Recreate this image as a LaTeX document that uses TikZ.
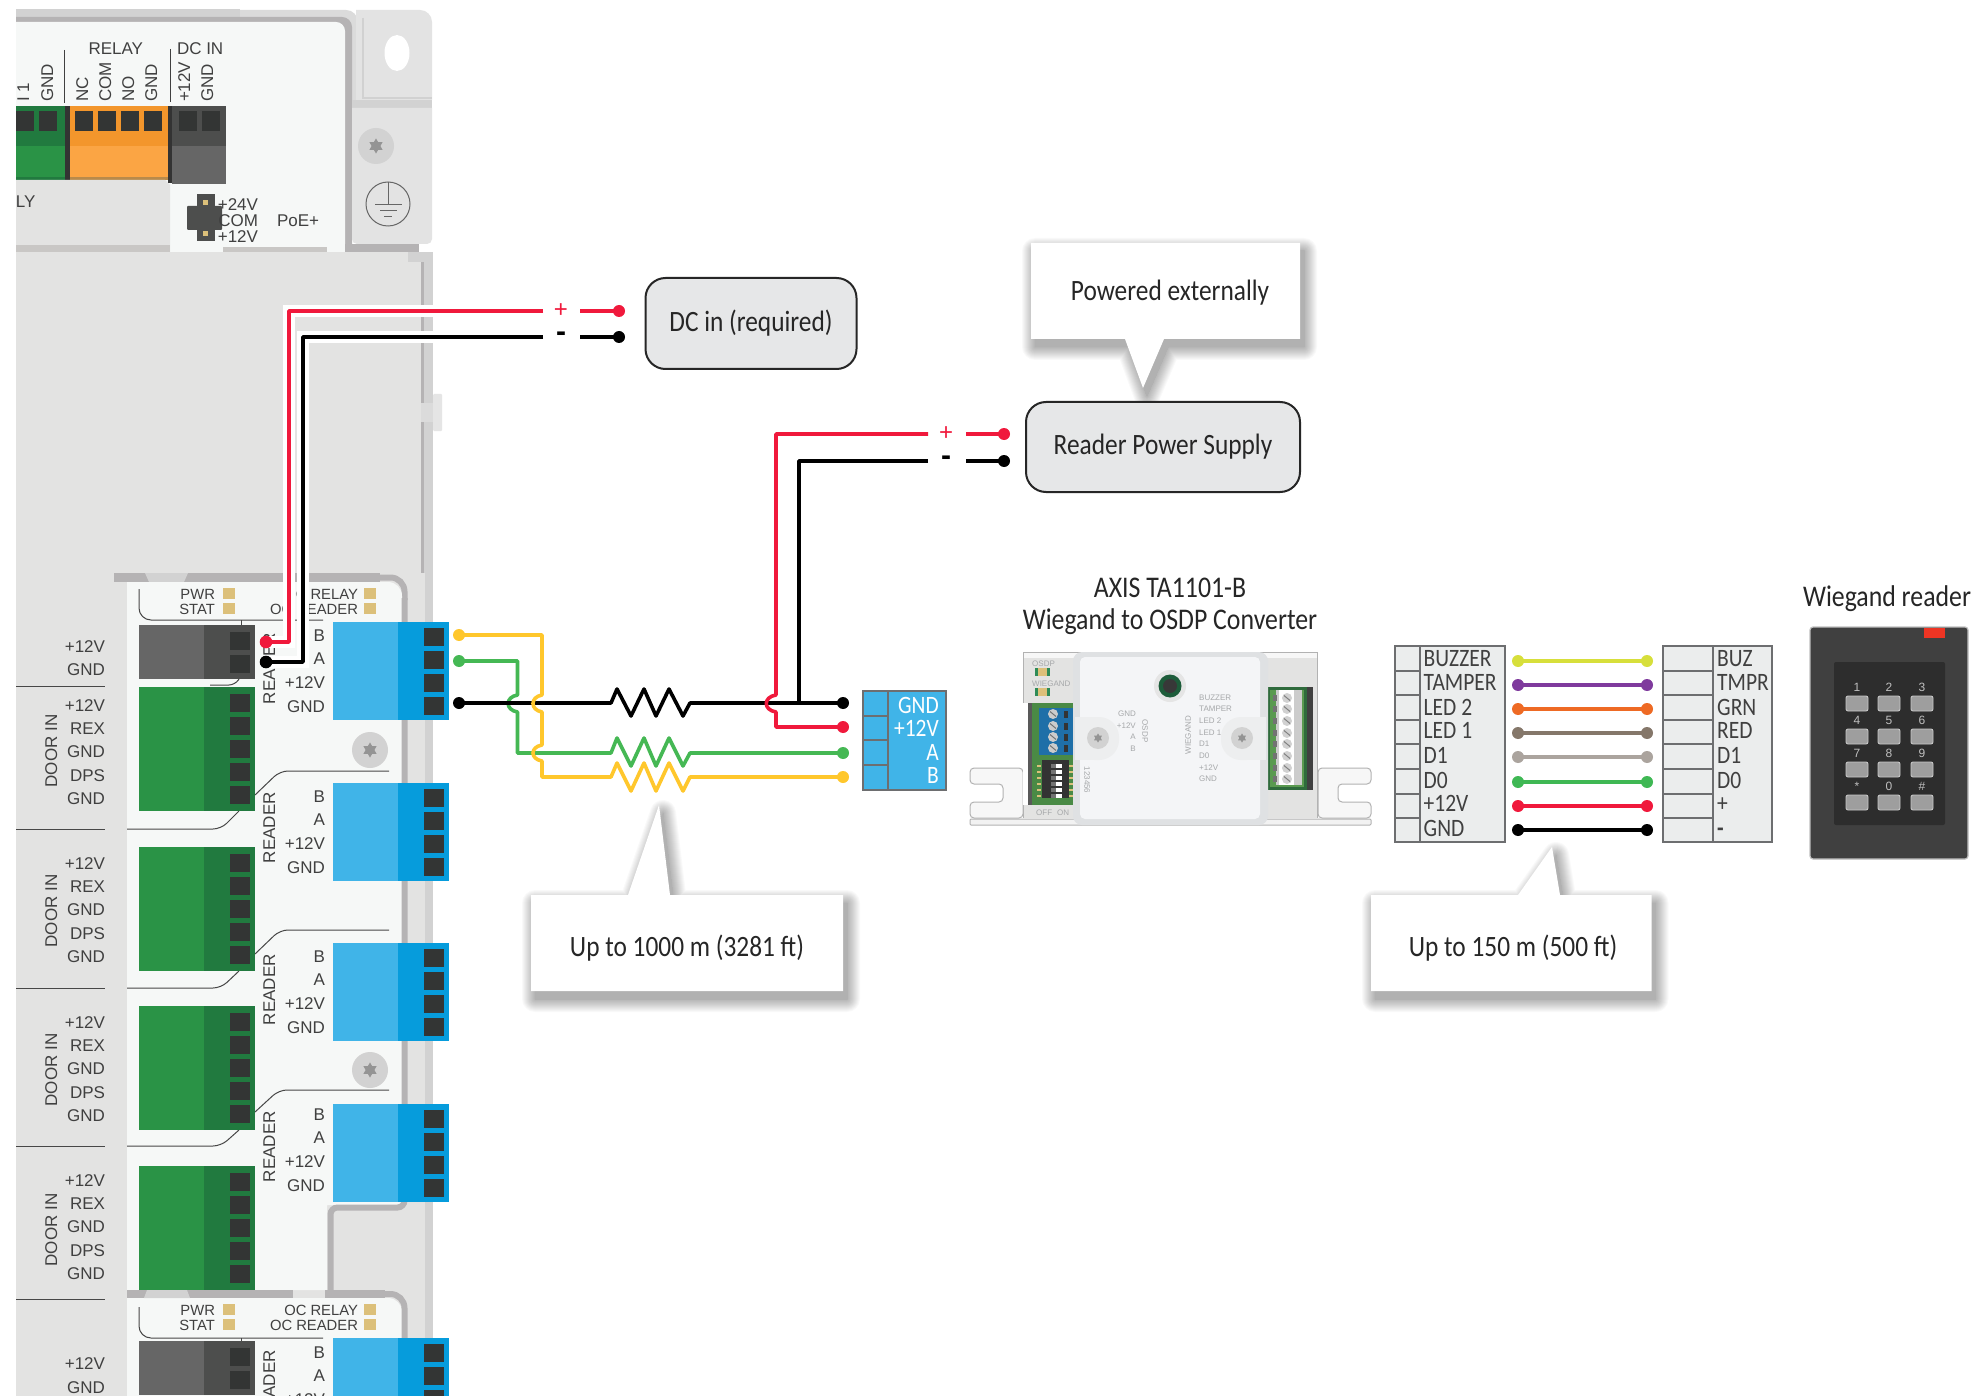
\documentclass[tikz,border=0pt]{standalone}
\usepackage{fontspec}
\setmainfont{Liberation Sans}
\newfontfamily\cond[FakeStretch=0.86]{Carlito}
\definecolor{pan}{HTML}{F6F8F7}
\definecolor{gry}{HTML}{E3E3E2}
\definecolor{drk}{HTML}{B5B3B4}
\definecolor{lit}{HTML}{D2D2D2}
\definecolor{txtc}{HTML}{404040}
\definecolor{grnL}{HTML}{2A9346}
\definecolor{grnD}{HTML}{217A3F}
\definecolor{bluL}{HTML}{40B4E8}
\definecolor{bluD}{HTML}{069CDC}
\definecolor{pinc}{HTML}{333534}
\definecolor{graL}{HTML}{666666}
\definecolor{graD}{HTML}{4D4E4D}
\definecolor{gold}{HTML}{DCC07A}
\definecolor{wred}{HTML}{F0193C}
\definecolor{wyel}{HTML}{FFC72C}
\definecolor{wgrn}{HTML}{45B854}
\definecolor{boxg}{HTML}{E6E7E8}
\definecolor{tabl}{HTML}{EBEDED}
\definecolor{tabs}{HTML}{6D6E70}
\definecolor{cgr}{HTML}{A6A8AA}
\definecolor{orgL}{HTML}{FBA544}
\definecolor{orgD}{HTML}{F3962C}
\definecolor{orgS}{HTML}{B98A4A}
\definecolor{bnd}{HTML}{C9C7C5}
\definecolor{pcbG}{HTML}{4A8A45}
\definecolor{pcbB}{HTML}{1F6FA8}
\definecolor{ledg}{HTML}{2E8B57}
\definecolor{pcbD}{HTML}{2F6B3C}
\definecolor{pcbL}{HTML}{5A9A50}
\definecolor{bodA}{HTML}{DFE1E3}
\definecolor{bodB}{HTML}{F4F5F7}
\definecolor{bodC}{HTML}{EDEEEF}
\definecolor{btng}{HTML}{1D5C3A}
\definecolor{rdrb}{HTML}{404040}
\definecolor{rtab}{HTML}{EE3524}
\definecolor{rkpd}{HTML}{2D2D2D}
\newcounter{nn}
\newcommand\sz[1]{\fontsize{#1}{#1}\selectfont}
% right/left aligned label, rotated label; auto-named
\newcommand\RT[3]{\stepcounter{nn}\node[lab,anchor=base east] (n\thenn) at (#1,#2) {#3};}
\newcommand\LT[3]{\stepcounter{nn}\node[lab,anchor=base west] (n\thenn) at (#1,#2) {#3};}
\newcommand\UP[3]{\stepcounter{nn}\node[lab,anchor=base west,rotate=90] (n\thenn) at (#1,#2) {#3};}
\newcommand\UPC[3]{\stepcounter{nn}\node[lab,anchor=base,rotate=90] (n\thenn) at (#1,#2) {#3};}
\newcommand\screw[3]{\fill[lit] (#1,#2) circle (#3);
  \begin{scope}[shift={(#1,#2)}]\fill[black!42] (90:#3*.42) -- (210:#3*.42) -- (330:#3*.42) -- cycle (270:#3*.42) -- (30:#3*.42) -- (150:#3*.42) -- cycle;\end{scope}}
\newcommand\greenblk[2]{%
  \fill[grnL] (139,#1) rectangle (204,#1+124);
  \fill[grnD] (204,#1) rectangle (255,#1+124);
  \foreach \p in {7,30,53,76,99} \fill[pinc] (230,#1+\p) rectangle +(20,18);
  \RT{105}{#2}{+12V}\RT{105}{#2+23}{REX}\RT{105}{#2+46}{GND}\RT{105}{#2+70}{DPS}\RT{105}{#2+93}{GND}
  \UPC{57}{#1+64}{DOOR IN}}
\newcommand\grayblk[1]{%
  \fill[graL] (139,#1) rectangle (204,#1+54);
  \fill[graD] (204,#1) rectangle (255,#1+54);
  \fill[pinc] (230,#1+7) rectangle +(20,18);
  \fill[pinc] (230,#1+30) rectangle +(20,18);}
\newcommand\blueblk[2]{%
  \fill[bluL] (333,#1) rectangle (398,#1+98);
  \fill[bluD] (398,#1) rectangle (449,#1+98);
  \foreach \p in {6,29,52,75} \fill[pinc] (424,#1+\p) rectangle +(20,18);
  \RT{325}{#1+19+#2}{B}\RT{325}{#1+42+#2}{A}\RT{325}{#1+66+#2}{+12V}\RT{325}{#1+90+#2}{GND}}
\newcommand\calloutbox[1]{%
  \begin{scope}[shift={(4,8)}]
  \foreach \i in {26,24,...,0} {%
    \begin{scope}[transparency group,opacity=.024]
    \filldraw[black,line width=\i pt,line join=round] #1;
    \end{scope}}
  \end{scope}
  \fill[white] #1;}
\begin{document}
\begin{tikzpicture}[x=1pt,y=-1pt,
  lab/.style={inner sep=0,outer sep=0,text=txtc,font=\sz{17}},
  calltext/.style={inner sep=0,text=black!85,font=\cond\sz{29.5}},
  powerbox/.style={draw=black!85,line width=2,fill=boxg,rounded corners=20,inner sep=0,font=\cond\sz{29.5},text=black!85},
  title/.style={inner sep=0,text=black!85,font=\cond\sz{30}},
  wire/.style={line width=3.6,line join=round},
  halo/.style={white,line width=12},
  tabline/.style={draw=tabs,line width=2.2,fill=tabl},
  tabtext/.style={inner sep=0,anchor=base west,text=black!75,font=\cond\sz{25}},
  blutext/.style={inner sep=0,anchor=base east,text=white,font=\cond\sz{25}},
  sign/.style={inner sep=0,font=\sz{24}},
  minussign/.style={inner sep=0,font=\bfseries\sz{30}},
  keylab/.style={inner sep=0,text=black!25,font=\sz{12}},
  key/.style={fill=black!38,draw=black!22,line width=.9,rounded corners=2},
  tiny/.style={inner sep=0,text=cgr,font=\sz{8}}]
\useasboundingbox (0,0) rectangle (1973,1396);
\fill[white] (0,0) rectangle (1973,1396);

%% ---------- top board ----------
\fill[black!14] (0,10) [rounded corners=12] -- (358,10) [sharp corners] -- (358,110) -- (0,110) -- cycle;
\fill[lit] (16,9) rectangle (240,17);
\fill[drk] (0,17) [rounded corners=10] -- (352,17) [sharp corners] -- (352,260) -- (0,260) -- cycle;
\fill[pan] (0,22) [rounded corners=9] -- (345,22) [sharp corners] -- (345,260) -- (0,260) -- cycle;
% mounting ears
\fill[black!11] (356,10) [rounded corners=12] -- (432,10) [sharp corners] -- (432,100) -- (356,100) -- cycle;
\fill[lit] (352,100) rectangle (432,108);
\draw[black!18,line width=1.5] (363,18) -- (363,98) -- (432,98);
\fill[white] (397,53) ellipse (12.5 and 18);
\fill[black!11] (352,108) [rounded corners=5] -- (352,244) -- (432,244) [sharp corners] -- (432,108) -- cycle;
\fill[drk] (345,244) rectangle (419,252);
\screw{376}{146}{18}
\draw[black!60,line width=1] (388,204) circle (22);
\draw[black!60,line width=1] (388,182) -- (388,205) (375,205) -- (402,205) (380,211) -- (397,211) (384,217) -- (392,217);
% terminals
\fill[grnD] (16,106) rectangle (65,146);
\fill[grnL] (16,146) rectangle (65,177);
\fill[grnD] (16,177) rectangle (65,180);
\fill[black!80] (65,106) rectangle (70,180);
\fill[orgD] (70,106) rectangle (168,146);
\fill[orgL] (70,146) rectangle (168,177);
\fill[orgS] (70,177) rectangle (168,180);
\fill[black!80] (168,106) rectangle (172,183);
\fill[graD] (172,106) rectangle (226,146);
\fill[graL] (172,146) rectangle (226,184);
\foreach \x in {16,39} \fill[pinc] (\x,111) rectangle +(18,20);
\foreach \x in {75,98,121,144,179,202} \fill[pinc] (\x,111) rectangle +(18,20);
\draw[black!75,line width=1] (64.5,50) -- (64.5,103) (170,49) -- (170,102);
\RT{143}{55}{RELAY}\LT{177}{55}{DC IN}
\UP{29}{102}{I 1}\UP{53}{102}{GND}\UP{88}{102}{NC}\UP{111}{102}{COM}\UP{134}{102}{NO}\UP{157}{102}{GND}\UP{190}{102}{+12V}\UP{213}{102}{GND}
% power selector
\fill[gry] (0,180) -- (165,180) -- (170,185) -- (170,252) -- (0,252) -- cycle;
\fill[bnd] (0,245) rectangle (170,252);
\fill[bnd] (223,247) rectangle (327,252);
\LT{16}{208}{LY}
\fill[graD] (197,194) rectangle (215,206);
\fill[graD] (197,230) rectangle (215,241);
\fill[graD,rounded corners=1] (187,206) rectangle (222,230);
\fill[gold] (203,200) rectangle +(5,5);
\fill[gold] (203,231) rectangle +(5,5);
\RT{258}{211}{+24V}\RT{258}{227}{COM}\RT{258}{243}{+12V}\LT{277}{227}{PoE+}

%% ---------- lower board ----------
\fill[gry] (0,252) rectangle (421,590);
\fill[lit] (408,252) rectangle (433,262);
\fill[white] (419,244) rectangle (433,252);
\fill[drk] (421,262) rectangle (424,590);
\fill[lit] (424,252) rectangle (433,590);
\fill[black!14] (421,403) rectangle (433,422);
\fill[black!10,rounded corners=1] (433,394) rectangle (442,431);
\fill[gry] (127,573) rectangle (425,1396);
\fill[lit] (425,583) rectangle (433,1396);
\fill[gry] (16,573) rectangle (127,1396);
% dark border of the upper door panel
\draw[drk,line width=9] (114,577.5) -- (380,577.5);
\draw[drk,line width=6,rounded corners=14] (370,577.5) -- (404.5,577.5) -- (404.5,600);
\fill[lit] (145,573) -- (188,573) -- (184,582) -- (149,582) -- cycle;
\fill[pan] (127,582) [rounded corners=14] -- (402,582) [sharp corners] -- (402,1205) -- (327,1205) -- (327,1290) -- (127,1290) -- cycle;
\draw[drk,line width=6,rounded corners=7] (404.5,598) -- (404.5,1207.5) -- (330.5,1207.5) -- (330.5,1294);
% bottom panel
\fill[pan] (127,1298) [rounded corners=14] -- (402,1298) [sharp corners] -- (402,1396) -- (127,1396) -- cycle;
\draw[drk,line width=8] (127,1294) -- (293,1294);
\draw[drk,line width=8] (325,1294) -- (385,1294);
\draw[drk,line width=6,rounded corners=14] (375,1294) -- (404.5,1294) -- (404.5,1396);
\fill[lit] (147,1290) -- (187,1290) -- (190,1298) -- (144,1298) -- cycle;
\screw{370}{750}{18}
\screw{370}{1070}{18}

% separator lines
\foreach \y in {686,829,988,1146,1299} \draw[black!72,line width=1] (16,\y) -- (105,\y);
\begin{scope}[black!72,line width=1]
\draw[rounded corners=12] (139,589) -- (139,620) -- (323,620);
\draw (241,620) -- (241,625);
\draw[rounded corners=6] (210,685) -- (235,685) -- (239,679);
\draw[rounded corners=8] (127,829) -- (221,829) -- (239,811);
\draw[rounded corners=8] (255,795) -- (280,771) -- (389,771);
\draw[rounded corners=8] (127,988) -- (221,988) -- (239,971);
\draw[rounded corners=8] (255,954) -- (280,930) -- (389,930);
\draw[rounded corners=8] (127,1146) -- (221,1146) -- (239,1130);
\draw[rounded corners=8] (255,1112) -- (279,1090) -- (389,1090);
\draw[rounded corners=12] (139,1307) -- (139,1338) -- (323,1338);
\draw (241,1338) -- (241,1341);
\end{scope}

\grayblk{625}
\RT{105}{652}{+12V}\RT{105}{675}{GND}
\greenblk{687}{711}
\greenblk{847}{869}
\greenblk{1006}{1028}
\greenblk{1166}{1186}
\grayblk{1341}
\RT{105}{1369}{+12V}\RT{105}{1393}{GND}
\blueblk{622}{0}
\blueblk{783}{0}
\blueblk{943}{0}
\blueblk{1104}{-3}
\blueblk{1338}{1}
\UP{275}{704}{READER}\UP{275}{863}{READER}\UP{275}{1025}{READER}\UP{275}{1182}{READER}\UP{275}{1421}{READER}
% LEDs and their labels
\foreach \a/\b in {599/614,1315/1330}{
  \RT{215}{\a}{\sz{14.8}PWR}\RT{215}{\b}{\sz{14.8}STAT}\RT{358}{\a}{\sz{14.8}OC RELAY}\RT{358}{\b}{\sz{14.8}OC READER}
  \fill[gold] (223,\a-11) rectangle +(12,11);
  \fill[gold] (223,\b-11) rectangle +(12,11);
  \fill[gold] (364,\a-11) rectangle +(12,11);
  \fill[gold] (364,\b-11) rectangle +(12,11);}

%% ---------- call-outs ----------
\calloutbox{(1031,243) -- (1300,243) -- (1300,339) -- (1164,339) -- (1143,388) -- (1125,339) -- (1031,339) -- cycle}
\calloutbox{(531,895) -- (628,895) -- (659,805) -- (670,895) -- (843,895) -- (843,991) -- (531,991) -- cycle}
\calloutbox{(1371,895) -- (1518,895) -- (1552,847) -- (1560,895) -- (1651.5,895) -- (1651.5,991) -- (1371,991) -- cycle}
\node[calltext] (extnote) at (1170,293) {Powered externally};
\node[calltext] (longnote) at (687,948) {Up to 1000 m (3281 ft)};
\node[calltext] (wiegnote) at (1513,948) {Up to 150 m (500 ft)};

%% ---------- power boxes ----------
\node[powerbox,minimum width=211,minimum height=91] (dcin) at (751,323.5) {\raisebox{-3pt}{DC in (required)}};
\node[powerbox,minimum width=274,minimum height=90] (rps) at (1163,447) {\raisebox{-2pt}{Reader Power Supply}};

%% ---------- wires, board side ----------
\coordinate (dcRed) at (266,642);
\coordinate (dcBlk) at (266,662);
\coordinate (dcRedP) at (619,311);
\coordinate (dcBlkP) at (619,337);
\draw[halo] (440,311) -- (289,311) -- (289,642) -- (dcRed);
\draw[halo] (440,337) -- (303,337) -- (303,662) -- (dcBlk);
\draw[wire,wred] (dcRedP) -- (580,311) (543,311) -- (289,311) -- (289,642) -- (dcRed);
\draw[wire,black] (dcBlkP) -- (580,337) (543,337) -- (303,337) -- (303,662) -- (dcBlk);
\fill[wred] (dcRed) circle (6.3) (dcRedP) circle (6);
\fill[black] (dcBlk) circle (6.3) (dcBlkP) circle (6);
\node[sign,text=wred] (dcplus) at (561,311) {+};
\node[minussign,text=black] (dcminus) at (561,337) {-};

%% ---------- reader power ----------
\coordinate (rpRedP) at (1004,434);
\coordinate (rpBlkP) at (1004,461);
\coordinate (rdRed) at (843,727);
\coordinate (rdBlk) at (843,703);
\coordinate (rdGrn) at (843,753);
\coordinate (rdYel) at (843,777);
\coordinate (ctYel) at (459,635);
\coordinate (ctGrn) at (459,661);
\coordinate (ctBlk) at (459,703);
\coordinate (blkTee) at (799,703);
\draw[wire,wgrn] (ctGrn) -- (517.5,661) -- (517.5,695) .. controls (505,697) and (505,710) .. (517.5,712) -- (517.5,753) -- (611,753) -- (617,738) -- (631,766) -- (644,738) -- (656,766) -- (669,738) -- (683,766) -- (690,753) -- (rdGrn);
\draw[wire,black] (ctBlk) -- (611,703) -- (617,689) -- (631,716) -- (644,689) -- (656,716) -- (669,689) -- (683,716) -- (690,703) -- (rdBlk);
\draw[wire,wyel] (ctYel) -- (542,635) -- (542,695) .. controls (530,697) and (530,710) .. (542,712) -- (542,745) .. controls (530,747) and (530,759) .. (542,761) -- (542,777) -- (611,777) -- (617,763) -- (631,791) -- (644,763) -- (656,791) -- (669,763) -- (683,791) -- (690,777) -- (rdYel);
\draw[wire,wred] (rpRedP) -- (966,434) (928,434) -- (776,434) -- (776,695) .. controls (763,697) and (763,710) .. (776,712) -- (776,727) -- (rdRed);
\draw[wire,black] (rpBlkP) -- (966,461) (928,461) -- (799,461) -- (blkTee);
\fill[wyel] (ctYel) circle (6) (rdYel) circle (6);
\fill[wgrn] (ctGrn) circle (6) (rdGrn) circle (6);
\fill[black] (ctBlk) circle (6) (rdBlk) circle (6) (rpBlkP) circle (6);
\fill[wred] (rdRed) circle (6) (rpRedP) circle (6);
\node[sign,text=wred] (rpplus) at (946,434) {+};
\node[minussign,text=black] (rpminus) at (946,461) {-};

%% ---------- OSDP terminal on the converter side ----------
\fill[bluL] (863,691) rectangle (946,790);
\draw[tabs,line width=2.6] (863,691) rectangle (946,790);
\draw[tabs,line width=2.6] (888,691) -- (888,790) (863,716) -- (888,716) (863,740) -- (888,740) (863,765) -- (888,765);
\node[blutext] (oG) at (939,713) {GND};
\node[blutext] (oP) at (939,736) {+12V};
\node[blutext] (oA) at (939,760) {A};
\node[blutext] (oB) at (939,783) {B};

%% ---------- converter ----------
\node[title] (convA) at (1170,588) {AXIS TA1101-B};
\node[title] (convB) at (1170,622) {Wiegand to OSDP Converter};
\draw[black!30,fill=black!5,line width=1,rounded corners=1] (970,819) rectangle (1371,825);
\draw[black!30,fill=black!3,line width=1,rounded corners=4] (1023,768) -- (970,768) -- (970,784) -- (1003,784) -- (1003,802) -- (970,802) -- (970,818) -- (1023,818) -- cycle;
\draw[black!30,fill=black!3,line width=1,rounded corners=4] (1318,768) -- (1371,768) -- (1371,784) -- (1338,784) -- (1338,802) -- (1371,802) -- (1371,818) -- (1318,818) -- cycle;
\draw[black!30,fill=black!3,line width=1] (1023,652) rectangle (1317,658);
\fill[gry] (1023,658) rectangle (1074,818);
\fill[gry] (1267,658) rectangle (1317,818);
\draw[black!30,line width=1] (1023,658) -- (1023,818) (1317,658) -- (1317,818);
\fill[white] (1023,703) rectangle (1028,805);
\fill[black!65] (1028,703) rectangle (1032,805);
% left PCB
\fill[pcbG] (1032,703) rectangle (1074,805);
\fill[pcbB] (1039,708) rectangle (1073,755);
\foreach \y in {714,726,737,748} {\fill[black!20] (1053,\y) circle (5);
  \draw[black!55,line width=1] (1050,\y-2.5) -- (1056,\y+2.5);
  \fill[black!80] (1064,\y-3) rectangle +(4,7);}
\foreach \y in {765,771,777,783,789,795} {\fill[gold] (1037,\y) rectangle +(4,2);\fill[gold] (1069,\y) rectangle +(4,2);}
\fill[black!80] (1042,760) rectangle (1069,798);
\foreach \y in {764,770,776,782,788,794} {\fill[white] (1051,\y) rectangle +(11,4);\fill[black!55] (1051,\y) rectangle +(5,4);}
\fill[ledg] (1035,668) rectangle (1050,676);
\fill[gold] (1038,668) rectangle (1047,676);
\fill[ledg] (1035,688) rectangle (1050,696);
\fill[gold] (1038,688) rectangle (1047,696);
\stepcounter{nn}\node[tiny,anchor=base west] (n\thenn) at (1032,666) {OSDP};
\stepcounter{nn}\node[tiny,anchor=base west] (n\thenn) at (1032,686) {WIEGAND};
\stepcounter{nn}\node[tiny,anchor=base west] (n\thenn) at (1036,815) {OFF};
\stepcounter{nn}\node[tiny,anchor=base west] (n\thenn) at (1057,815) {ON};
% right PCB
\fill[pcbD] (1267,687) rectangle (1307,790);
\fill[pcbL] (1270,690) rectangle (1304,787);
\fill[black!20] (1276,690) rectangle (1302,785);
\fill[white] (1279,690) rectangle (1294,785);
\fill[black!75] (1307,687) rectangle (1313,790);
\foreach \y in {698,709,721,733,744,756,768,779} {\fill[black!55] (1273,\y-3) rectangle +(3.5,6);\fill[black!18] (1287,\y) circle (5);\draw[black!50,line width=1] (1284,\y-2.5) -- (1290,\y+2.5);}
% body
\fill[bodA,rounded corners=9] (1073,652) rectangle (1268,825);
\fill[bodB,rounded corners=5] (1080,657) rectangle (1260,819);
\fill[bodC,rounded corners=20] (1075,717) rectangle (1119,760);
\fill[bodC] (1075,717) rectangle (1098,760);
\fill[bodC,rounded corners=20] (1221,717) rectangle (1266,760);
\fill[bodC] (1243,717) rectangle (1266,760);
\screw{1098}{738}{11}
\screw{1242}{738}{11}
\fill[black!10] (1170,686) circle (16);
\fill[btng] (1170,686) circle (11.5);
\fill[black!78] (1170,686) circle (7);
\foreach \l/\y in {GND/714,+12V/726,A/737,B/749} {\stepcounter{nn}\node[tiny,anchor=east] (n\thenn) at (1136,\y) {\l};}
\foreach \l/\y in {BUZZER/698,TAMPER/709,LED 2/721,LED 1/733,D1/744,D0/756,+12V/768,GND/779} {\stepcounter{nn}\node[tiny,anchor=west] (n\thenn) at (1199,\y) {\l};}
\stepcounter{nn}\node[tiny,rotate=-90] (n\thenn) at (1145,731) {OSDP};
\stepcounter{nn}\node[tiny,rotate=90] (n\thenn) at (1188,735) {WIEGAND};
\stepcounter{nn}\node[tiny,rotate=-90] (n\thenn) at (1087,780) {123456};

%% ---------- Wiegand tables ----------
\draw[tabline] (1395,646) rectangle (1505,842);
\draw[tabs,line width=2.2] (1420,646) -- (1420,842);
\foreach \y in {671,695,720,744,769,794,818} \draw[tabs,line width=2.2] (1395,\y) -- (1420,\y);
\draw[tabline] (1663,646) rectangle (1772,842);
\draw[tabs,line width=2.2] (1713,646) -- (1713,842);
\foreach \y in {671,695,720,744,769,794,818} \draw[tabs,line width=2.2] (1663,\y) -- (1713,\y);
\foreach \a/\b/\y in {BUZZER/BUZ/666,TAMPER/TMPR/690,LED 2/GRN/715,LED 1/RED/738,D1/D1/763,D0/D0/788,+12V/+/811,GND/{\bfseries -}/836} {
  \stepcounter{nn}\node[tabtext] (n\thenn) at (1423.5,\y) {\a};
  \stepcounter{nn}\node[tabtext] (n\thenn) at (1717,\y) {\b};}
\foreach \i/\y/\c in {a/661/D7DF3B,b/685/7F3A9D,c/709/EE6A24,d/733/85776A,e/757/ABA49E,f/782/3FB854,g/806/F0193C,h/830/000000} {
  \definecolor{wc}{HTML}{\c}
  \coordinate (w\i L) at (1518,\y);
  \coordinate (w\i R) at (1647,\y);
  \draw[wire,wc] (w\i L) -- (w\i R);
  \fill[wc] (w\i L) circle (6) (w\i R) circle (6);}

%% ---------- reader ----------
\node[title] (rdtitle) at (1887,599) {Wiegand reader};
\fill[rdrb,draw=black!25,line width=1.2,rounded corners=3] (1810,627) rectangle (1968,859);
\fill[rtab] (1923.5,628) rectangle (1945,638);
\fill[rkpd,rounded corners=2] (1834,662) rectangle (1945,825);
\foreach \l/\cx/\ky in {1/1857/696,2/1889/696,3/1922/696,4/1857/729,5/1889/729,6/1922/729,7/1857/762,8/1889/762,9/1922/762,*/1857/795,0/1889/795,\#/1922/795} {
  \draw[key] (\cx-11,\ky) rectangle (\cx+11,\ky+15);
  \stepcounter{nn}\node[keylab] (n\thenn) at (\cx,\ky-9) {\l};}

% left page margin
\fill[white] (0,0) rectangle (16,1396);
\end{tikzpicture}
\end{document}
